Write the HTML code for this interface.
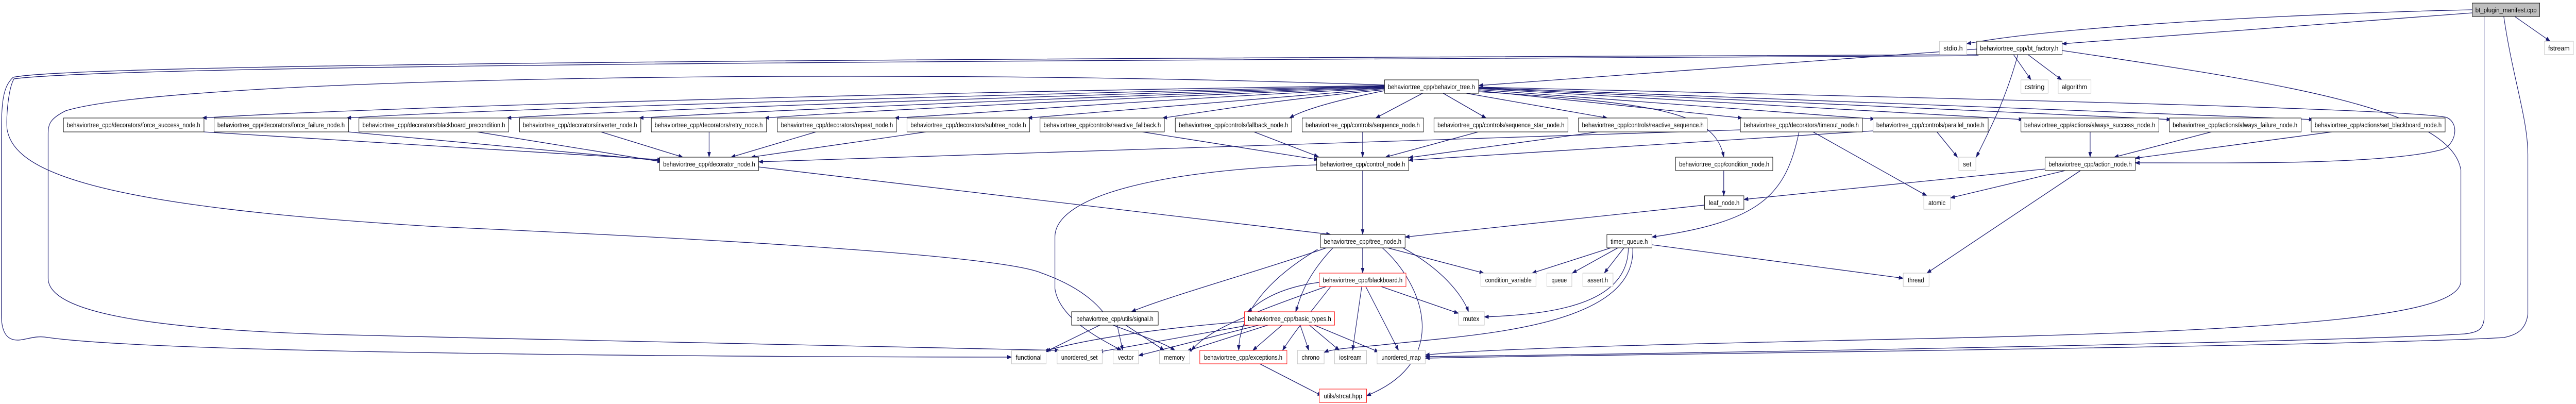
<!DOCTYPE html>
<html><head><meta charset="utf-8"><style>
html,body{margin:0;padding:0;background:#fff;width:100%;height:100%;overflow:hidden;}
svg{display:block;position:absolute;left:0;top:0;width:100vw;height:100vh;}
text{font-family:"Liberation Sans",sans-serif;font-size:13px;fill:#000;}
.e{fill:none;stroke:#191970;stroke-width:1.3;marker-end:url(#a);}
.d{fill:#fff;stroke:#000;stroke-width:1;}
.g{fill:#fff;stroke:#bfbfbf;stroke-width:1;}
.r{fill:#fff;stroke:#ff0000;stroke-width:1;}
.m{fill:#bfbfbf;stroke:#000;stroke-width:1;}
</style></head><body>
<svg viewBox="0 0 5885 784" preserveAspectRatio="none" xmlns="http://www.w3.org/2000/svg">
<defs><marker id="a" markerWidth="11" markerHeight="8" refX="10" refY="4" orient="auto" markerUnits="userSpaceOnUse"><path d="M0,0 L11,4 L0,8 z" fill="#191970"/></marker></defs>

<path class="e" d="M5648,19 C5300,25 4700,50 4493,85"/>
<path class="e" d="M5648,25 L4711,85"/>
<path class="e" d="M5745,32 L5826,80"/>
<path class="e" d="M5675,32 L5675,620 C5672,640 5660,645 5630,648 C5300,665 3700,688 3256,692"/>
<path class="e" d="M5720,32 C5740,150 5775,230 5775,300 L5775,610 C5770,640 5750,650 5720,655 C5400,672 3500,690 3256,695"/>
<path class="e" d="M4711,98 C5200,160 5600,210 5622,330 L5622,545 C5622,610 5300,640 4400,657 C3800,668 3400,676 3256,689"/>
<path class="e" d="M4520,106 C3000,112 200,118 30,150 C5,170 3,200 3,280 L3,610 C3,650 20,660 40,660 C60,660 80,650 110,655 C400,690 2000,693 2311,693"/>
<path class="e" d="M4520,108 C3000,116 300,122 32,153 C20,170 14,220 16,250 C30,330 200,400 1000,440 C1800,470 2300,500 2380,530 C2480,560 2520,600 2540,630 C2600,650 2660,665 2684,680"/>
<path class="e" d="M3163,165 C2000,130 400,150 150,215 C115,230 110,240 110,260 L110,540 C110,600 300,640 800,650 C1500,665 2300,676 2420,680"/>
<path class="e" d="M4520,95 L3378,166"/>
<path class="e" d="M4600,106 L4640,155"/>
<path class="e" d="M4633,106 L4710,155"/>
<path class="e" d="M4610,106 C4580,200 4540,260 4515,305"/>

<path class="e" d="M3163,166 C2000,180 800,210 462,229"/>
<path class="e" d="M3163,167 C2200,185 1100,212 792,229"/>
<path class="e" d="M3163,168 C2300,188 1400,215 1158,229"/>
<path class="e" d="M3163,169 C2400,190 1700,217 1460,229"/>
<path class="e" d="M3163,170 C2500,192 1900,219 1747,229"/>
<path class="e" d="M3163,171 C2600,195 2200,222 2044,229"/>
<path class="e" d="M3163,172 C2800,195 2500,220 2348,229"/>
<path class="e" d="M3163,174 C2900,195 2750,218 2656,229"/>
<path class="e" d="M3163,176 C3050,195 2980,212 2946,229"/>
<path class="e" d="M3250,181 L3143,229"/>
<path class="e" d="M3297,181 L3395,229"/>
<path class="e" d="M3350,181 L3672,229"/>
<path class="e" d="M3378,176 L3980,229"/>
<path class="e" d="M3378,174 L4283,231"/>
<path class="e" d="M3378,172 L4622,232"/>
<path class="e" d="M3378,171 L4960,232"/>
<path class="e" d="M3378,170 L5285,232"/>
<path class="e" d="M3378,169 C4400,190 5500,210 5590,228 C5620,240 5610,280 5580,290 C5450,320 5100,316 4878,316"/>
<path class="e" d="M3378,178 C3800,200 3920,220 3938,305"/>

<path class="e" d="M466,256 L1512,310"/>
<path class="e" d="M796,256 L1512,312"/>
<path class="e" d="M1090,256 L1512,314"/>
<path class="e" d="M1373,256 L1560,305"/>
<path class="e" d="M1620,256 L1620,305"/>
<path class="e" d="M1864,256 L1670,305"/>
<path class="e" d="M2115,256 L1716,305"/>
<path class="e" d="M2610,256 L3012,310"/>
<path class="e" d="M2865,256 L3012,304"/>
<path class="e" d="M3976,252 L1733,314"/>
<path class="e" d="M3113,256 L3113,305"/>
<path class="e" d="M3377,256 L3165,305"/>
<path class="e" d="M3650,256 L3218,306"/>
<path class="e" d="M4279,254 L3218,311"/>
<path class="e" d="M4110,256 C4080,380 4020,430 3774,460"/>
<path class="e" d="M4142,256 L4402,380"/>
<path class="e" d="M4425,256 L4472,305"/>
<path class="e" d="M4775,256 L4775,305"/>
<path class="e" d="M5052,256 L4830,305"/>
<path class="e" d="M5327,256 L4878,307"/>

<path class="e" d="M4672,328 L3984,387"/>
<path class="e" d="M4718,331 L4456,384"/>
<path class="e" d="M4753,331 L4402,530"/>
<path class="e" d="M3113,331 L3113,455"/>
<path class="e" d="M3938,331 L3938,380"/>
<path class="e" d="M3894,398 L3210,460"/>
<path class="e" d="M1733,324 C2300,380 2700,420 3040,455"/>
<path class="e" d="M3008,320 C2650,330 2410,380 2410,460 L2410,560 C2420,620 2520,660 2562,680"/>

<path class="e" d="M3113,481 L3113,530"/>
<path class="e" d="M3170,481 L3390,530"/>
<path class="e" d="M3205,481 C3290,520 3340,570 3355,605"/>
<path class="e" d="M3158,481 C3250,550 3320,700 3122,768"/>
<path class="e" d="M3030,481 C2900,520 2650,580 2585,605"/>
<path class="e" d="M3045,481 C2980,540 2970,580 2960,605"/>
<path class="e" d="M3010,484 C2880,550 2830,620 2830,680"/>

<path class="e" d="M3680,481 L3500,530"/>
<path class="e" d="M3696,481 L3592,530"/>
<path class="e" d="M3710,481 L3665,530"/>
<path class="e" d="M3774,475 L4348,540"/>
<path class="e" d="M3720,481 C3720,590 3550,610 3391,615"/>
<path class="e" d="M3730,481 C3740,640 3350,650 3150,670 C3080,675 3040,678 3025,684"/>

<path class="e" d="M3155,556 L3332,608"/>
<path class="e" d="M3111,556 L3090,680"/>
<path class="e" d="M3120,556 L3195,680"/>
<path class="e" d="M3040,556 C3000,600 2960,640 2930,680"/>
<path class="e" d="M3030,556 C2850,610 2760,640 2722,680"/>
<path class="e" d="M3014,548 C2900,560 2860,600 2850,605"/>

<path class="e" d="M2843,624 C2600,640 2450,665 2385,682"/>
<path class="e" d="M2860,630 L2510,683"/>
<path class="e" d="M2880,630 L2601,690"/>
<path class="e" d="M2900,630 L2712,681"/>
<path class="e" d="M2930,630 L2862,680"/>
<path class="e" d="M2970,630 L2990,680"/>
<path class="e" d="M2990,630 L3060,680"/>
<path class="e" d="M3000,630 L3150,683"/>
<path class="e" d="M2515,630 L2390,682"/>
<path class="e" d="M2552,630 L2565,680"/>
<path class="e" d="M2570,630 L2660,680"/>
<path class="e" d="M2878,706 L3020,768"/>

<g text-anchor="middle">
<rect class="m" x="5648" y="6" width="154" height="26"/><text x="5725" y="24" textLength="140" lengthAdjust="spacingAndGlyphs">bt_plugin_manifest.cpp</text>
<rect class="g" x="4431" y="80" width="62" height="26"/><text x="4462" y="98" textLength="44" lengthAdjust="spacingAndGlyphs">stdio.h</text>
<rect class="d" x="4516" y="80" width="195" height="26"/><text x="4613" y="98" textLength="179" lengthAdjust="spacingAndGlyphs">behaviortree_cpp/bt_factory.h</text>
<rect class="g" x="5813" y="80" width="66" height="26"/><text x="5846" y="98" textLength="49" lengthAdjust="spacingAndGlyphs">fstream</text>
<rect class="d" x="3163" y="155" width="215" height="26"/><text x="3270" y="173" textLength="199" lengthAdjust="spacingAndGlyphs">behaviortree_cpp/behavior_tree.h</text>
<rect class="g" x="4617" y="155" width="62" height="26"/><text x="4648" y="173" textLength="46" lengthAdjust="spacingAndGlyphs">cstring</text>
<rect class="g" x="4702" y="155" width="75" height="26"/><text x="4739" y="173" textLength="58" lengthAdjust="spacingAndGlyphs">algorithm</text>

<rect class="d" x="145" y="229" width="321" height="27"/><text x="305" y="247" textLength="305" lengthAdjust="spacingAndGlyphs">behaviortree_cpp/decorators/force_success_node.h</text>
<rect class="d" x="489" y="229" width="307" height="27"/><text x="642" y="247" textLength="291" lengthAdjust="spacingAndGlyphs">behaviortree_cpp/decorators/force_failure_node.h</text>
<rect class="d" x="820" y="229" width="342" height="27"/><text x="991" y="247" textLength="326" lengthAdjust="spacingAndGlyphs">behaviortree_cpp/decorators/blackboard_precondition.h</text>
<rect class="d" x="1187" y="229" width="277" height="27"/><text x="1325" y="247" textLength="261" lengthAdjust="spacingAndGlyphs">behaviortree_cpp/decorators/inverter_node.h</text>
<rect class="d" x="1488" y="229" width="263" height="27"/><text x="1619" y="247" textLength="247" lengthAdjust="spacingAndGlyphs">behaviortree_cpp/decorators/retry_node.h</text>
<rect class="d" x="1776" y="229" width="272" height="27"/><text x="1912" y="247" textLength="256" lengthAdjust="spacingAndGlyphs">behaviortree_cpp/decorators/repeat_node.h</text>
<rect class="d" x="2072" y="229" width="280" height="27"/><text x="2212" y="247" textLength="264" lengthAdjust="spacingAndGlyphs">behaviortree_cpp/decorators/subtree_node.h</text>
<rect class="d" x="2376" y="229" width="284" height="27"/><text x="2518" y="247" textLength="268" lengthAdjust="spacingAndGlyphs">behaviortree_cpp/controls/reactive_fallback.h</text>
<rect class="d" x="2685" y="229" width="266" height="27"/><text x="2818" y="247" textLength="250" lengthAdjust="spacingAndGlyphs">behaviortree_cpp/controls/fallback_node.h</text>
<rect class="d" x="2975" y="229" width="277" height="27"/><text x="3113" y="247" textLength="261" lengthAdjust="spacingAndGlyphs">behaviortree_cpp/controls/sequence_node.h</text>
<rect class="d" x="3276" y="229" width="306" height="27"/><text x="3429" y="247" textLength="290" lengthAdjust="spacingAndGlyphs">behaviortree_cpp/controls/sequence_star_node.h</text>
<rect class="d" x="3606" y="229" width="294" height="27"/><text x="3753" y="247" textLength="278" lengthAdjust="spacingAndGlyphs">behaviortree_cpp/controls/reactive_sequence.h</text>
<rect class="d" x="3976" y="229" width="279" height="27"/><text x="4115" y="247" textLength="263" lengthAdjust="spacingAndGlyphs">behaviortree_cpp/decorators/timeout_node.h</text>
<rect class="d" x="4279" y="229" width="263" height="27"/><text x="4410" y="247" textLength="247" lengthAdjust="spacingAndGlyphs">behaviortree_cpp/controls/parallel_node.h</text>
<rect class="d" x="4617" y="229" width="315" height="27"/><text x="4774" y="247" textLength="299" lengthAdjust="spacingAndGlyphs">behaviortree_cpp/actions/always_success_node.h</text>
<rect class="d" x="4956" y="229" width="301" height="27"/><text x="5106" y="247" textLength="285" lengthAdjust="spacingAndGlyphs">behaviortree_cpp/actions/always_failure_node.h</text>
<rect class="d" x="5280" y="229" width="306" height="27"/><text x="5433" y="247" textLength="290" lengthAdjust="spacingAndGlyphs">behaviortree_cpp/actions/set_blackboard_node.h</text>

<rect class="d" x="1507" y="305" width="226" height="26"/><text x="1620" y="323" textLength="210" lengthAdjust="spacingAndGlyphs">behaviortree_cpp/decorator_node.h</text>
<rect class="d" x="3008" y="305" width="210" height="26"/><text x="3113" y="323" textLength="194" lengthAdjust="spacingAndGlyphs">behaviortree_cpp/control_node.h</text>
<rect class="d" x="3828" y="305" width="222" height="26"/><text x="3939" y="323" textLength="206" lengthAdjust="spacingAndGlyphs">behaviortree_cpp/condition_node.h</text>
<rect class="g" x="4475" y="305" width="39" height="26"/><text x="4494" y="323" textLength="19" lengthAdjust="spacingAndGlyphs">set</text>
<rect class="d" x="4672" y="305" width="206" height="26"/><text x="4775" y="323" textLength="190" lengthAdjust="spacingAndGlyphs">behaviortree_cpp/action_node.h</text>

<rect class="d" x="3894" y="380" width="90" height="26"/><text x="3939" y="398" textLength="70" lengthAdjust="spacingAndGlyphs">leaf_node.h</text>
<rect class="g" x="4395" y="380" width="61" height="26"/><text x="4425" y="398" textLength="39" lengthAdjust="spacingAndGlyphs">atomic</text>

<rect class="d" x="3017" y="455" width="193" height="26"/><text x="3113" y="473" textLength="177" lengthAdjust="spacingAndGlyphs">behaviortree_cpp/tree_node.h</text>
<rect class="d" x="3671" y="455" width="103" height="26"/><text x="3722" y="473" textLength="85" lengthAdjust="spacingAndGlyphs">timer_queue.h</text>

<rect class="r" x="3014" y="530" width="198" height="26"/><text x="3113" y="548" textLength="182" lengthAdjust="spacingAndGlyphs">behaviortree_cpp/blackboard.h</text>
<rect class="g" x="3383" y="530" width="126" height="26"/><text x="3446" y="548" textLength="106" lengthAdjust="spacingAndGlyphs">condition_variable</text>
<rect class="g" x="3534" y="530" width="57" height="26"/><text x="3562" y="548" textLength="35" lengthAdjust="spacingAndGlyphs">queue</text>
<rect class="g" x="3616" y="530" width="69" height="26"/><text x="3650" y="548" textLength="47" lengthAdjust="spacingAndGlyphs">assert.h</text>
<rect class="g" x="4348" y="530" width="59" height="26"/><text x="4377" y="548" textLength="37" lengthAdjust="spacingAndGlyphs">thread</text>

<rect class="d" x="2448" y="605" width="198" height="26"/><text x="2547" y="623" textLength="176" lengthAdjust="spacingAndGlyphs">behaviortree_cpp/utils/signal.h</text>
<rect class="r" x="2843" y="605" width="206" height="26"/><text x="2946" y="623" textLength="190" lengthAdjust="spacingAndGlyphs">behaviortree_cpp/basic_types.h</text>
<rect class="g" x="3332" y="605" width="59" height="26"/><text x="3361" y="623" textLength="37" lengthAdjust="spacingAndGlyphs">mutex</text>

<rect class="g" x="2311" y="680" width="79" height="26"/><text x="2350" y="698" textLength="59" lengthAdjust="spacingAndGlyphs">functional</text>
<rect class="g" x="2415" y="680" width="103" height="26"/><text x="2466" y="698" textLength="83" lengthAdjust="spacingAndGlyphs">unordered_set</text>
<rect class="g" x="2543" y="680" width="58" height="26"/><text x="2572" y="698" textLength="36" lengthAdjust="spacingAndGlyphs">vector</text>
<rect class="g" x="2649" y="680" width="69" height="26"/><text x="2683" y="698" textLength="47" lengthAdjust="spacingAndGlyphs">memory</text>
<rect class="r" x="2741" y="680" width="199" height="26"/><text x="2840" y="698" textLength="179" lengthAdjust="spacingAndGlyphs">behaviortree_cpp/exceptions.h</text>
<rect class="g" x="2964" y="680" width="61" height="26"/><text x="2994" y="698" textLength="41" lengthAdjust="spacingAndGlyphs">chrono</text>
<rect class="g" x="3049" y="680" width="73" height="26"/><text x="3085" y="698" textLength="51" lengthAdjust="spacingAndGlyphs">iostream</text>
<rect class="g" x="3146" y="680" width="110" height="26"/><text x="3201" y="698" textLength="90" lengthAdjust="spacingAndGlyphs">unordered_map</text>

<rect class="r" x="3014" y="755" width="108" height="26"/><text x="3068" y="773" textLength="88" lengthAdjust="spacingAndGlyphs">utils/strcat.hpp</text>
</g>
</svg>
</body></html>
